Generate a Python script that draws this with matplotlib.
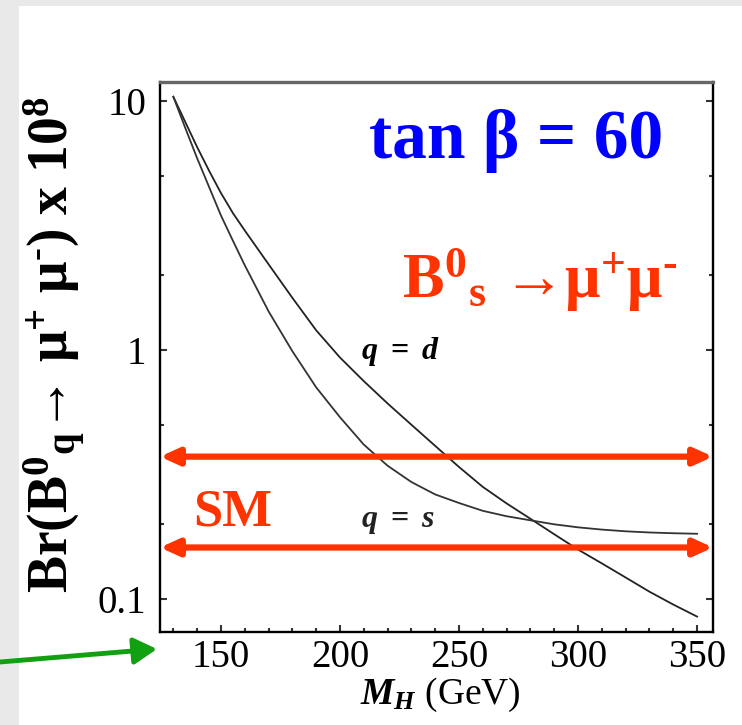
import matplotlib
matplotlib.use("Agg")
import matplotlib.pyplot as plt
from matplotlib.patches import Rectangle, FancyArrowPatch
from matplotlib.ticker import FixedLocator, NullFormatter

plt.rcParams['font.family'] = 'Liberation Serif'
plt.rcParams['mathtext.fontset'] = 'custom'
plt.rcParams['mathtext.rm'] = 'Liberation Serif:bold'
plt.rcParams['mathtext.bf'] = 'Liberation Serif:bold'
plt.rcParams['mathtext.it'] = 'Liberation Serif:italic:bold'

# Br(B_q -> mu mu) x 1e8 vs M_H, tan beta = 60
mh_s = [130, 135, 140, 145, 150, 155, 160, 170, 180, 190, 200, 210, 220, 230, 240,
        250, 260, 270, 280, 290, 300, 310, 320, 330, 340, 350]
br_s = [10.4, 7.8, 5.89, 4.52, 3.47, 2.75, 2.19, 1.43, 0.989, 0.708, 0.537, 0.417, 0.343,
        0.295, 0.263, 0.243, 0.226, 0.215, 0.207, 0.1995, 0.194, 0.190, 0.187, 0.185,
        0.1837, 0.1828]

mh_d = [130, 135, 140, 145, 150, 155, 160, 170, 180, 190, 200, 210, 220, 230, 240, 250,
        260, 270, 280, 290, 300, 310, 320, 330, 340, 350]
br_d = [10.4, 8.24, 6.53, 5.25, 4.27, 3.55, 3.02, 2.21, 1.62, 1.20, 0.933, 0.750, 0.610,
        0.501, 0.412, 0.339, 0.282, 0.242, 0.210, 0.182, 0.158, 0.139, 0.122, 0.107,
        0.095, 0.085]

# SM band edges
sm_levels = [0.373, 0.161]

x_ticks = [150, 200, 250, 300, 350]
y_ticks = [0.1, 1, 10]
y_tick_labels = ["0.1", "1", "10"]

RED = '#ff3300'

fig = plt.figure(figsize=(7.42, 7.25), dpi=100)
fig.patch.set_facecolor('#e9e9e9')
fig.patches.append(Rectangle((19 / 742, 0), 1, 1 - 6 / 725, transform=fig.transFigure,
                             facecolor='white', edgecolor='none', zorder=-10))

ax = fig.add_axes([160 / 742, 1 - 632 / 725, 553 / 742, 550 / 725])
ax.set_yscale('log')
ax.set_xlim(124.4, 356.7)
ax.set_ylim(0.0737, 11.92)

ax.plot(mh_d, br_d, color='#222222', lw=1.3)
ax.plot(mh_s, br_s, color='#333333', lw=1.3)

xl = ax.get_xlim()
for lev in sm_levels:
    ax.annotate('', xy=(xl[1], lev), xytext=(xl[0], lev),
                arrowprops=dict(arrowstyle='<|-|>,head_length=1.1,head_width=0.5',
                                color=RED, lw=4.5, shrinkA=0, shrinkB=0))

ax.set_xticks(x_ticks)
ax.xaxis.set_minor_locator(FixedLocator(range(130, 360, 10)))
ax.yaxis.set_major_locator(FixedLocator(y_ticks))
ax.set_yticklabels(y_tick_labels)
ax.yaxis.set_minor_locator(FixedLocator([0.2, 0.5, 2, 5]))
ax.yaxis.set_minor_formatter(NullFormatter())
ax.tick_params(which='both', direction='in', top=False, right=True, width=1.5,
               labelsize=28, color='#333333')
ax.tick_params(which='major', length=5)
ax.tick_params(which='minor', length=3)
ax.tick_params(axis='y', which='major', pad=10)
ax.tick_params(axis='x', which='major', pad=5)
for s in ['left', 'bottom', 'right']:
    ax.spines[s].set_linewidth(1.7)
ax.spines['top'].set_linewidth(2.4)
ax.spines['top'].set_color('#666666')

ax.text(0.644, 0.862, r'tan β = 60', transform=ax.transAxes, ha='center', va='baseline',
        color='#0000ff', fontsize=50, fontweight='bold')
ax.text(0.437, 0.607, r'B$^{0}$$_{\mathrm{s}}$ →μ$^{+}$μ$^{‐}$', transform=ax.transAxes,
        ha='left', va='baseline', color=RED, fontsize=45, fontweight='bold')
ax.text(0.06, 0.1945, 'SM', transform=ax.transAxes, ha='left', va='baseline',
        color=RED, fontsize=38, fontweight='bold')
ax.text(209, 0.92, r'$q\ =\ d$', ha='left', va='baseline', fontsize=23)
ax.text(209, 0.195, r'$q\ =\ s$', ha='left', va='baseline', fontsize=23, color='#222222')

fig.text(55 / 742, 1 - 345 / 725,
         r'Br(B$^{0}$$_{\mathrm{q}}$→ μ$^{+}$ μ$^{‐}$) x 10$^{8}$',
         rotation=90, ha='center', va='center', fontsize=40, fontweight='bold')
fig.text(440 / 742, 1 - 695 / 725, r'$M_H$ (GeV)', ha='center', va='center', fontsize=27)

fig.add_artist(FancyArrowPatch((0, 1 - 662 / 725), (157 / 742, 1 - 649 / 725),
                               transform=fig.transFigure,
                               arrowstyle='-|>,head_length=14,head_width=8',
                               color='#11a011', lw=3.5, shrinkA=0, shrinkB=0,
                               mutation_scale=1))

fig.savefig('out.png', dpi=100)
